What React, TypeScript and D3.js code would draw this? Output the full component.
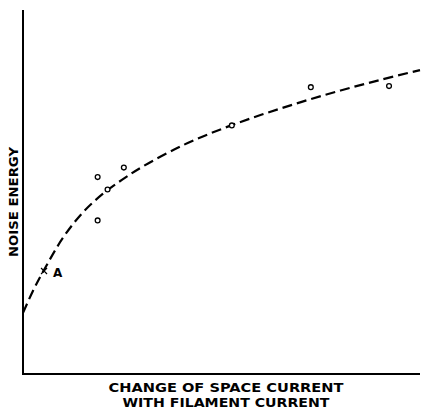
import React, { useEffect, useRef } from 'react';
import * as d3 from 'd3';

// fitted curve (dashed), arbitrary units 0..100
const curveX = [0, 2.5, 5, 10, 15, 20, 25, 30, 40, 50, 60, 70, 80, 90, 100];
const curveY = [16.8, 22.8, 28.0, 37.3, 44.3, 49.4, 53.4, 56.9, 62.7, 67.3, 71.2, 74.7, 77.9, 80.8, 83.5];

// measured points (open circles)
const pointX = [18.8, 18.8, 21.3, 25.4, 52.6, 72.5, 92.2];
const pointY = [54.1, 42.2, 50.7, 56.7, 68.3, 78.8, 79.1];

// point A (cross)
const markA = { x: 5.3, y: 28.3, label: 'A' };

const yLabel = 'NOISE ENERGY';
const xLabelLines = ['CHANGE OF SPACE CURRENT', 'WITH FILAMENT CURRENT'];

const App: React.FC = () => {
  const svgRef = useRef<SVGSVGElement>(null);

  useEffect(() => {
    const svg = d3.select(svgRef.current);
    svg.selectAll('*').remove();

    const width = 423;
    const height = 410;
    const left = 23, right = 420, top = 10, bottom = 374;

    const x = d3.scaleLinear().domain([0, 100]).range([left, right]);
    const y = d3.scaleLinear().domain([0, 100]).range([bottom, top]);

    svg.attr('width', width).attr('height', height);

    svg.append('rect').attr('width', width).attr('height', height).attr('fill', '#fff');

    // axes
    svg.append('line')
      .attr('x1', x(0)).attr('x2', x(0))
      .attr('y1', y(100)).attr('y2', y(0))
      .attr('stroke', '#000').attr('stroke-width', 2);
    svg.append('line')
      .attr('x1', x(0) - 1).attr('x2', x(100))
      .attr('y1', y(0)).attr('y2', y(0))
      .attr('stroke', '#000').attr('stroke-width', 2);

    // dashed curve
    const line = d3.line<number>()
      .x((_, i) => x(curveX[i]))
      .y(d => y(d))
      .curve(d3.curveCatmullRom);

    svg.append('path')
      .attr('d', line(curveY))
      .attr('fill', 'none')
      .attr('stroke', '#000')
      .attr('stroke-width', 2.2)
      .attr('stroke-dasharray', '10,5');

    // circles
    svg.append('g')
      .selectAll('circle')
      .data(pointX)
      .enter().append('circle')
      .attr('cx', d => x(d))
      .attr('cy', (_, i) => y(pointY[i]))
      .attr('r', 2.4)
      .attr('fill', '#fff')
      .attr('stroke', '#000')
      .attr('stroke-width', 1.3);

    // cross at A
    const ax = x(markA.x), ay = y(markA.y);
    svg.append('path')
      .attr('d', `M${ax - 3},${ay - 3}L${ax + 3},${ay + 3}M${ax - 3},${ay + 3}L${ax + 3},${ay - 3}`)
      .attr('stroke', '#000')
      .attr('stroke-width', 1.2);
    svg.append('text')
      .attr('x', ax + 9)
      .attr('y', ay + 6)
      .attr('font-family', 'DejaVu Sans, sans-serif')
      .attr('font-weight', 'bold')
      .attr('font-size', 12)
      .text(markA.label);

    // y label
    svg.append('text')
      .attr('transform', `translate(18,${(top + bottom) / 2 + 10}) rotate(-90)`)
      .attr('text-anchor', 'middle')
      .attr('font-family', 'DejaVu Sans, sans-serif')
      .attr('font-weight', 'bold')
      .attr('font-size', 13)
      .attr('textLength', 110)
      .attr('lengthAdjust', 'spacingAndGlyphs')
      .text(yLabel);

    // x label
    const widths = [235, 207];
    xLabelLines.forEach((t, i) => {
      svg.append('text')
        .attr('x', 226)
        .attr('y', 392 + i * 15)
        .attr('text-anchor', 'middle')
        .attr('font-family', 'DejaVu Sans, sans-serif')
        .attr('font-weight', 'bold')
        .attr('font-size', 12.5)
        .attr('textLength', widths[i])
        .attr('lengthAdjust', 'spacingAndGlyphs')
        .text(t);
    });
  }, []);

  return <svg ref={svgRef} style={{ position: 'absolute', left: 0, top: 0 }}></svg>;
};

export default App;
